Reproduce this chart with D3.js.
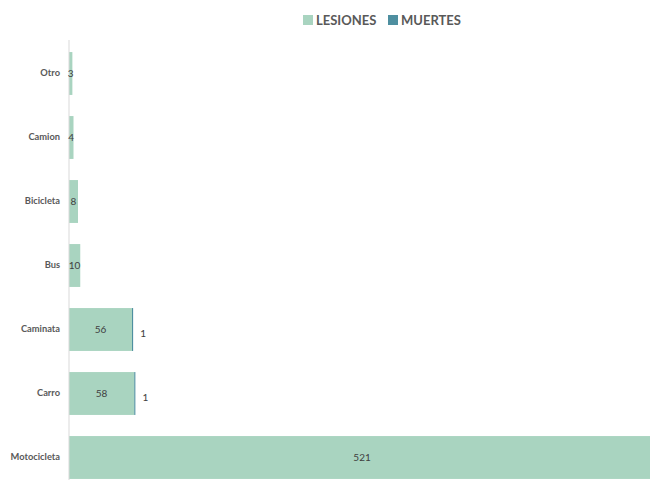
<!DOCTYPE html>
<html>
<head>
<meta charset="utf-8">
<script src="https://cdn.jsdelivr.net/npm/d3@7"></script>
<style>
  body { margin: 0; background: #fff; }
  svg { display: block; font-family: Lato, "Open Sans", sans-serif; }
</style>
</head>
<body>
<div id="chart"></div>
<script>
// Data
const categories = ["Otro", "Camion", "Bicicleta", "Bus", "Caminata", "Carro", "Motocicleta"];
const lesiones = [3, 4, 8, 10, 56, 58, 521];
const muertes = [0, 0, 0, 0, 1, 1, 0];
const seriesNames = ["LESIONES", "MUERTES"];
const seriesColors = ["#a9d4c0", "#4e8fa0"];

const W = 650, H = 480;
const margin = {top: 41.5, left: 69};

const svg = d3.select("#chart")
  .append("svg")
    .attr("width", W)
    .attr("height", H);

// x scale: 1.125 px per unit, bar for Motocicleta runs past the right edge
const x = d3.scaleLinear()
    .domain([0, 600])
    .range([margin.left, margin.left + 675]);

const y = d3.scaleBand()
    .domain(categories)
    .range([margin.top, margin.top + 448])
    .paddingInner(0.33)
    .paddingOuter(0.165);

const rows = categories.map((c, i) => ({cat: c, les: lesiones[i], mue: muertes[i]}));

// Lesiones bars
svg.append("g")
  .selectAll("rect")
  .data(rows)
  .join("rect")
    .attr("x", x(0))
    .attr("y", d => y(d.cat))
    .attr("width", d => x(d.les) - x(0))
    .attr("height", y.bandwidth())
    .attr("fill", seriesColors[0]);

// Muertes bars (stacked after lesiones)
svg.append("g")
  .selectAll("rect")
  .data(rows.filter(d => d.mue > 0))
  .join("rect")
    .attr("x", d => x(d.les))
    .attr("y", d => y(d.cat))
    .attr("width", d => x(d.les + d.mue) - x(d.les))
    .attr("height", y.bandwidth())
    .attr("fill", seriesColors[1]);

// Vertical axis line
svg.append("line")
    .attr("x1", x(0)).attr("x2", x(0))
    .attr("y1", 40).attr("y2", H)
    .attr("stroke", "#d9d9d9")
    .attr("stroke-width", 1);

// Category labels
const yAxis = svg.append("g")
    .attr("transform", `translate(${x(0) - 9},0)`)
    .call(d3.axisLeft(y).tickSize(0).tickPadding(0));
yAxis.select(".domain").remove();
yAxis.selectAll("text")
    .attr("fill", "#595959")
    .style("font-size", "9.3px")
    .style("font-weight", "bold")
    .style("font-family", "Lato, sans-serif");

// Lesiones value labels (clipped bar -> center of visible part)
svg.append("g")
  .selectAll("text")
  .data(rows)
  .join("text")
    .attr("x", d => (x(0) + x(d.les)) / 2)
    .attr("y", d => y(d.cat) + y.bandwidth() / 2)
    .attr("dy", "0.35em")
    .attr("text-anchor", "middle")
    .attr("fill", "#404040")
    .style("font-size", "10px")
    .text(d => d.les);

// Muertes value labels
svg.append("g")
  .selectAll("text")
  .data(rows.filter(d => d.mue > 0))
  .join("text")
    .attr("x", d => x(d.les + d.mue) + 10)
    .attr("y", d => y(d.cat) + y.bandwidth() / 2 + 4)
    .attr("dy", "0.35em")
    .attr("text-anchor", "middle")
    .attr("fill", "#404040")
    .style("font-size", "10px")
    .text(d => d.mue);

// Legend
const legend = svg.append("g").attr("transform", "translate(303,20)");
const legX = [0, 85];
seriesNames.forEach((name, i) => {
  const g = legend.append("g").attr("transform", `translate(${legX[i]},0)`);
  g.append("rect")
    .attr("x", 0).attr("y", -5)
    .attr("width", 10).attr("height", 10)
    .attr("fill", seriesColors[i]);
  g.append("text")
    .attr("x", 13).attr("y", 0)
    .attr("dy", "0.35em")
    .attr("fill", "#595959")
    .style("font-size", "13px")
    .style("font-weight", "bold")
    .text(name);
});
</script>
</body>
</html>
